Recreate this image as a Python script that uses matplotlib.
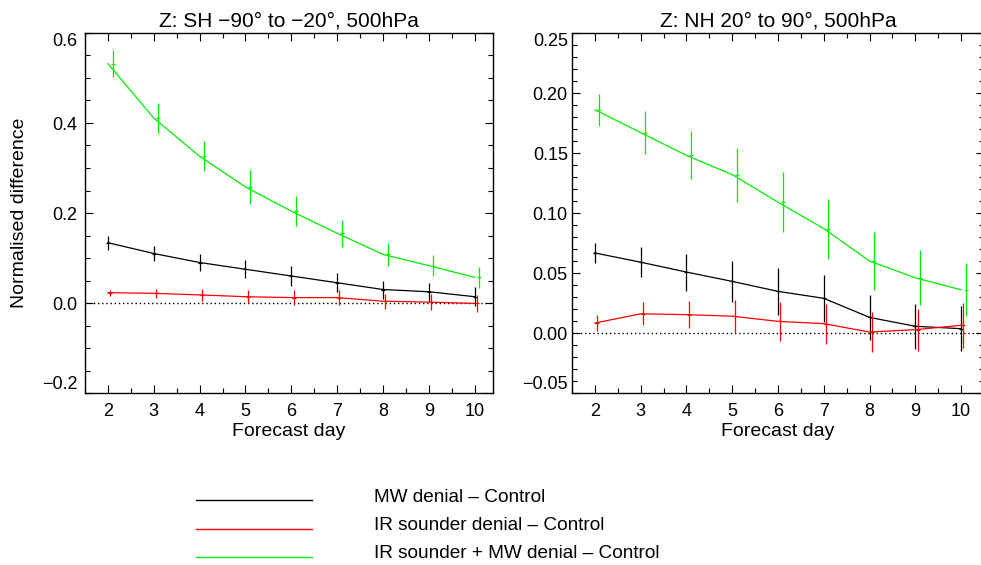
import matplotlib
matplotlib.use('Agg')
import matplotlib.pyplot as plt
from matplotlib.ticker import MultipleLocator, FuncFormatter
from matplotlib.lines import Line2D

plt.rcParams['font.family'] = ['Liberation Sans', 'DejaVu Sans']
plt.rcParams['font.size'] = 13

days = [2, 3, 4, 5, 6, 7, 8, 9, 10]

# SH panel
sh_mw = [0.134, 0.110, 0.090, 0.075, 0.060, 0.045, 0.030, 0.025, 0.014]
sh_mw_err = [0.016, 0.017, 0.018, 0.020, 0.022, 0.021, 0.020, 0.020, 0.021]
sh_ir = [0.023, 0.0215, 0.018, 0.014, 0.012, 0.012, 0.004, 0.002, -0.001]
sh_ir_err = [0.007, 0.010, 0.013, 0.015, 0.017, 0.017, 0.017, 0.017, 0.019]
sh_both = [0.532, 0.411, 0.326, 0.258, 0.204, 0.155, 0.108, 0.083, 0.057]
sh_both_err = [0.030, 0.034, 0.033, 0.038, 0.033, 0.030, 0.026, 0.023, 0.024]

# NH panel
nh_mw = [0.0667, 0.059, 0.0508, 0.043, 0.0347, 0.0289, 0.013, 0.0056, 0.0036]
nh_mw_err = [0.0083, 0.0125, 0.0154, 0.0174, 0.0197, 0.0196, 0.019, 0.0188, 0.019]
nh_ir = [0.0083, 0.016, 0.0153, 0.014, 0.0097, 0.0078, 0.0008, 0.0028, 0.0064]
nh_ir_err = [0.0065, 0.0096, 0.0114, 0.0139, 0.016, 0.0167, 0.017, 0.0176, 0.0185]
nh_both = [0.186, 0.167, 0.148, 0.132, 0.109, 0.087, 0.060, 0.046, 0.036]
nh_both_err = [0.0135, 0.018, 0.020, 0.0225, 0.025, 0.025, 0.024, 0.023, 0.022]

labels = ['MW denial \u2013 Control', 'IR sounder denial \u2013 Control',
          'IR sounder + MW denial \u2013 Control']
colors = ['black', 'red', '#00ee00']
offsets = [0.0, 0.05, 0.1]

W, H = 981, 565
fig = plt.figure(figsize=(W / 100, H / 100), dpi=100)
ax1 = fig.add_axes([85 / W, 1 - 393 / H, 408 / W, 360 / H])
ax2 = fig.add_axes([572 / W, 1 - 393 / H, 412 / W, 360 / H])


def fmt(dec):
    return FuncFormatter(lambda v, p: (('%.' + str(dec) + 'f') % v).replace('-', '\u2212'))


def draw(ax, series, title, xlim, ylim, yticks, yminor, dec, ypad):
    ax.axhline(0, color='black', lw=1.0, ls=(0, (1, 2)), zorder=1)
    for (vals, errs), color, off in zip(series, colors, offsets):
        ax.plot(days, vals, color=color, lw=0.9, zorder=3)
        xs = [d + off for d in days]
        ax.errorbar(xs, vals, yerr=errs, fmt='none', ecolor=color,
                    elinewidth=0.9, capsize=0, zorder=3)
        ax.plot(xs, vals, ls='none', marker='_', ms=3, mew=0.9,
                color=color, zorder=3)
    ax.set_xlim(*xlim)
    ax.set_ylim(*ylim)
    ax.set_xticks(days)
    ax.xaxis.set_minor_locator(MultipleLocator(0.5))
    ax.set_yticks(yticks)
    ax.yaxis.set_minor_locator(MultipleLocator(yminor))
    ax.yaxis.set_major_formatter(fmt(dec))
    ax.tick_params(which='both', direction='in', top=True, right=True,
                   width=0.8, labelsize=13)
    ax.tick_params(which='major', length=6)
    ax.tick_params(which='minor', length=3.5)
    ax.tick_params(axis='x', which='major', pad=7)
    ax.tick_params(axis='y', which='major', pad=ypad)
    for s in ax.spines.values():
        s.set_linewidth(1.0)
    ax.set_title(title, fontsize=15, pad=5)
    ax.set_xlabel('Forecast day', fontsize=14, labelpad=2.5)
    tl = ax.get_yticklabels()
    tl[0].set_va('bottom')
    tl[-1].set_va('top')


draw(ax1, [(sh_mw, sh_mw_err), (sh_ir, sh_ir_err), (sh_both, sh_both_err)],
     'Z: SH \u221290\u00b0 to \u221220\u00b0, 500hPa', (1.5, 10.4), (-0.2, 0.6),
     [-0.2, 0.0, 0.2, 0.4, 0.6], 0.05, 1, 5.5)
draw(ax2, [(nh_mw, nh_mw_err), (nh_ir, nh_ir_err), (nh_both, nh_both_err)],
     'Z: NH 20\u00b0 to 90\u00b0, 500hPa', (1.5, 10.5), (-0.05, 0.25),
     [-0.05, 0.0, 0.05, 0.10, 0.15, 0.20, 0.25], 0.01, 2, 3)
ax1.set_ylabel('Normalised difference', fontsize=14)
ax1.yaxis.set_label_coords(-0.14, 0.5)

# legend drawn manually below the panels
line_y = [500, 529, 557]
text_y = [501.7, 530, 558.3]
for lab, c, ly, ty in zip(labels, colors, line_y, text_y):
    fig.add_artist(Line2D([196 / W, 312 / W], [1 - ly / H] * 2,
                          transform=fig.transFigure, color=c, lw=1.0))
    fig.text(374 / W, 1 - ty / H, lab, ha='left', va='baseline', fontsize=13.7)

fig.savefig('out.png', dpi=100)
